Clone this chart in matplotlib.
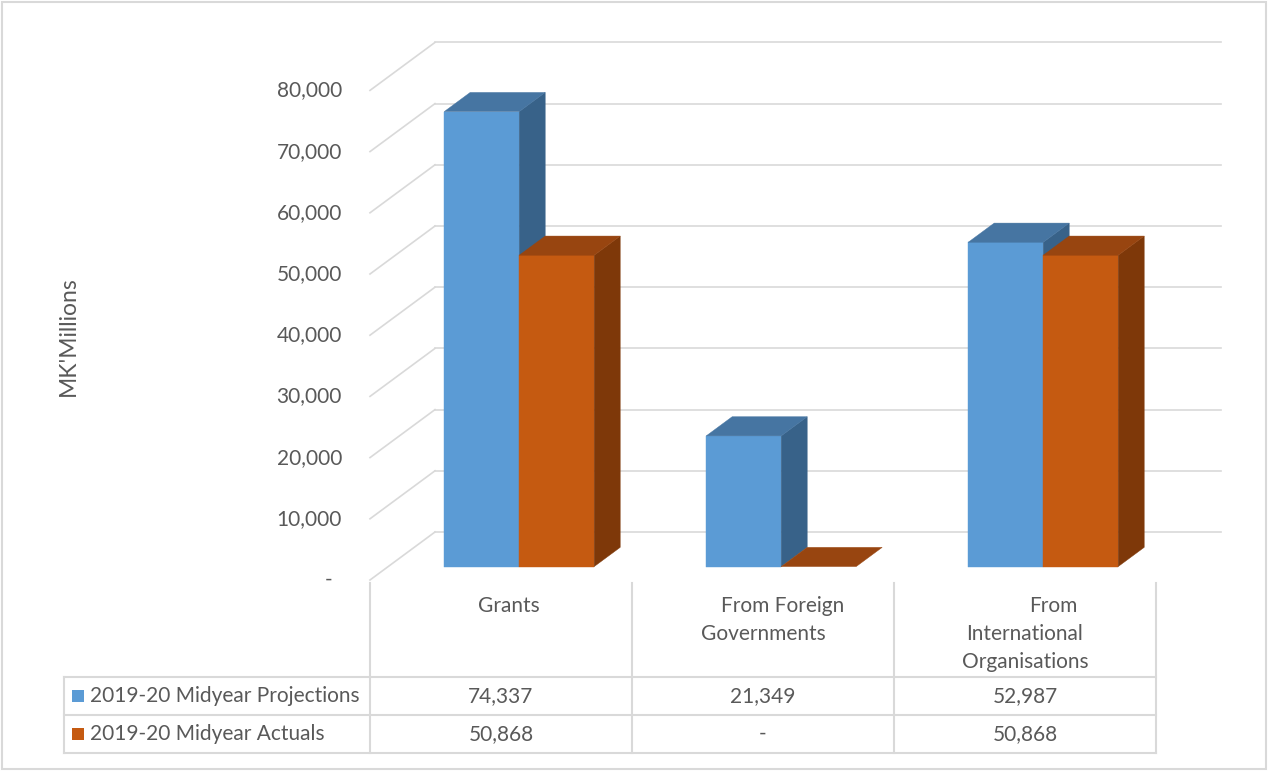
import matplotlib
matplotlib.use("Agg")
import matplotlib.pyplot as plt
from matplotlib.patches import Polygon, Rectangle
from matplotlib.lines import Line2D

# ---------------- data ----------------
categories = ["Grants", "From Foreign Governments", "From International Organisations"]
category_lines = [["Grants"], ["From Foreign", "Governments"], ["From", "International", "Organisations"]]
series_names = ["2019-20 Midyear Projections", "2019-20 Midyear Actuals"]
projections = [74337, 21349, 52987]
actuals = [50868, 0, 50868]
y_ticks = [0, 10000, 20000, 30000, 40000, 50000, 60000, 70000, 80000]
y_label = "MK'Millions"

# ---------------- style ----------------
W, H = 1268, 771
FONT = "Lato"
FS = 15
TXT = "#595959"
GRID = "#D9D9D9"
face_cols = [("#5B9BD5", "#4675A2", "#386289"),   # front, top, side
             ("#C55A11", "#984510", "#7E3809")]

fig = plt.figure(figsize=(W / 100, H / 100), dpi=100)
fig.patch.set_facecolor("white")

# pixel geometry of the front plane
X0_PX, CAT_PX = 370.0, 262.0
Y0_PX, PX_PER_UNIT = 580.0, 61.2 / 10000.0
DEPTH_DX_PX, DEPTH_DY_PX = 65.0, 48.0

ax = fig.add_axes([0, 0, 1, 1])
ax.set_xlim(-0.5 - X0_PX / CAT_PX, -0.5 + (W - X0_PX) / CAT_PX)
ax.set_ylim(-(H - Y0_PX) / PX_PER_UNIT, Y0_PX / PX_PER_UNIT)
ax.axis("off")

DX = DEPTH_DX_PX / CAT_PX
DY = DEPTH_DY_PX / PX_PER_UNIT
n = len(categories)
xl, xr = -0.5, n - 0.5

# walls: gridlines
for v in y_ticks:
    ax.add_line(Line2D([xl, xl + DX], [v, v + DY], color=GRID, lw=1.2, zorder=1))
    ax.add_line(Line2D([xl + DX, xr + DX], [v + DY, v + DY], color=GRID, lw=1.2, zorder=1))

# y tick labels
for v in y_ticks:
    lab = f"{v:,}" if v else "-"
    xoff = 28 if v else 38
    ax.text(xl - xoff / CAT_PX, v, lab, ha="right", va="center", fontsize=FS,
            color=TXT, family=FONT)

fig.text(68 / W, 1 - 336 / H, y_label, rotation=90, ha="center", va="center",
         fontsize=16.5, color=TXT, family=FONT)

# bars
BAR_W = 75.0 / CAT_PX
F0 = 0.28          # depth fraction of bar front face
BD = 0.40          # bar depth fraction
z = 3
for i in range(n):
    for s, vals in enumerate([projections, actuals]):
        v = vals[i]
        fx0 = i + (s - 1) * BAR_W + F0 * DX
        fx1 = fx0 + BAR_W
        by = F0 * DY
        ddx, ddy = BD * DX, BD * DY
        front, top, side = face_cols[s]
        if v > 0:
            ax.add_patch(Polygon([(fx0, by), (fx1, by), (fx1, by + v), (fx0, by + v)],
                                 closed=True, facecolor=front, edgecolor=front, lw=0.3, zorder=z))
            ax.add_patch(Polygon([(fx1, by), (fx1 + ddx, by + ddy), (fx1 + ddx, by + v + ddy), (fx1, by + v)],
                                 closed=True, facecolor=side, edgecolor=side, lw=0.3, zorder=z))
        ax.add_patch(Polygon([(fx0, by + v), (fx1, by + v), (fx1 + ddx, by + v + ddy), (fx0 + ddx, by + v + ddy)],
                             closed=True, facecolor=top, edgecolor=top, lw=0.3, zorder=z))
        z += 1

# ---------------- data table (pixel overlay) ----------------
tx = fig.add_axes([0, 0, 1, 1], facecolor="none")
tx.set_xlim(0, W)
tx.set_ylim(H, 0)
tx.axis("off")

col_edges = [X0_PX + k * CAT_PX for k in range(n + 1)]
row_top, row_mid, row_bot = 677, 715, 753
tcol = GRID
for xe in col_edges:
    tx.add_line(Line2D([xe, xe], [583, row_bot], color=tcol, lw=1.5))
tx.add_line(Line2D([64, 64], [row_top, row_bot], color=tcol, lw=1.5))
for yy in (row_top, row_mid, row_bot):
    tx.add_line(Line2D([64, col_edges[-1]], [yy, yy], color=tcol, lw=1.5))

# category labels
label_shift = [[8], [20, 0], [28, 0, 0]]
for i, lines in enumerate(category_lines):
    cx = col_edges[i] + CAT_PX / 2
    for j, line in enumerate(lines):
        tx.text(cx + label_shift[i][j], 606 + 28 * j, line, ha="center", va="center",
                fontsize=FS, color=TXT, family=FONT)

# series rows
for s, (name, vals) in enumerate(zip(series_names, [projections, actuals])):
    yc = (row_top + row_mid) / 2 if s == 0 else (row_mid + row_bot) / 2
    tx.add_patch(Rectangle((72, yc - 6), 12, 12, facecolor=face_cols[s][0], edgecolor="none"))
    tx.text(90, yc, name, ha="left", va="center", fontsize=FS, color=TXT, family=FONT)
    for i, v in enumerate(vals):
        cx = col_edges[i] + CAT_PX / 2
        tx.text(cx, yc, f"{v:,}" if v else "-", ha="center", va="center",
                fontsize=FS, color=TXT, family=FONT)

# chart border
tx.add_patch(Rectangle((2, 2), W - 4, H - 4, facecolor="none", edgecolor=GRID, lw=1.5))

fig.savefig("out.png", dpi=100, facecolor="white")
